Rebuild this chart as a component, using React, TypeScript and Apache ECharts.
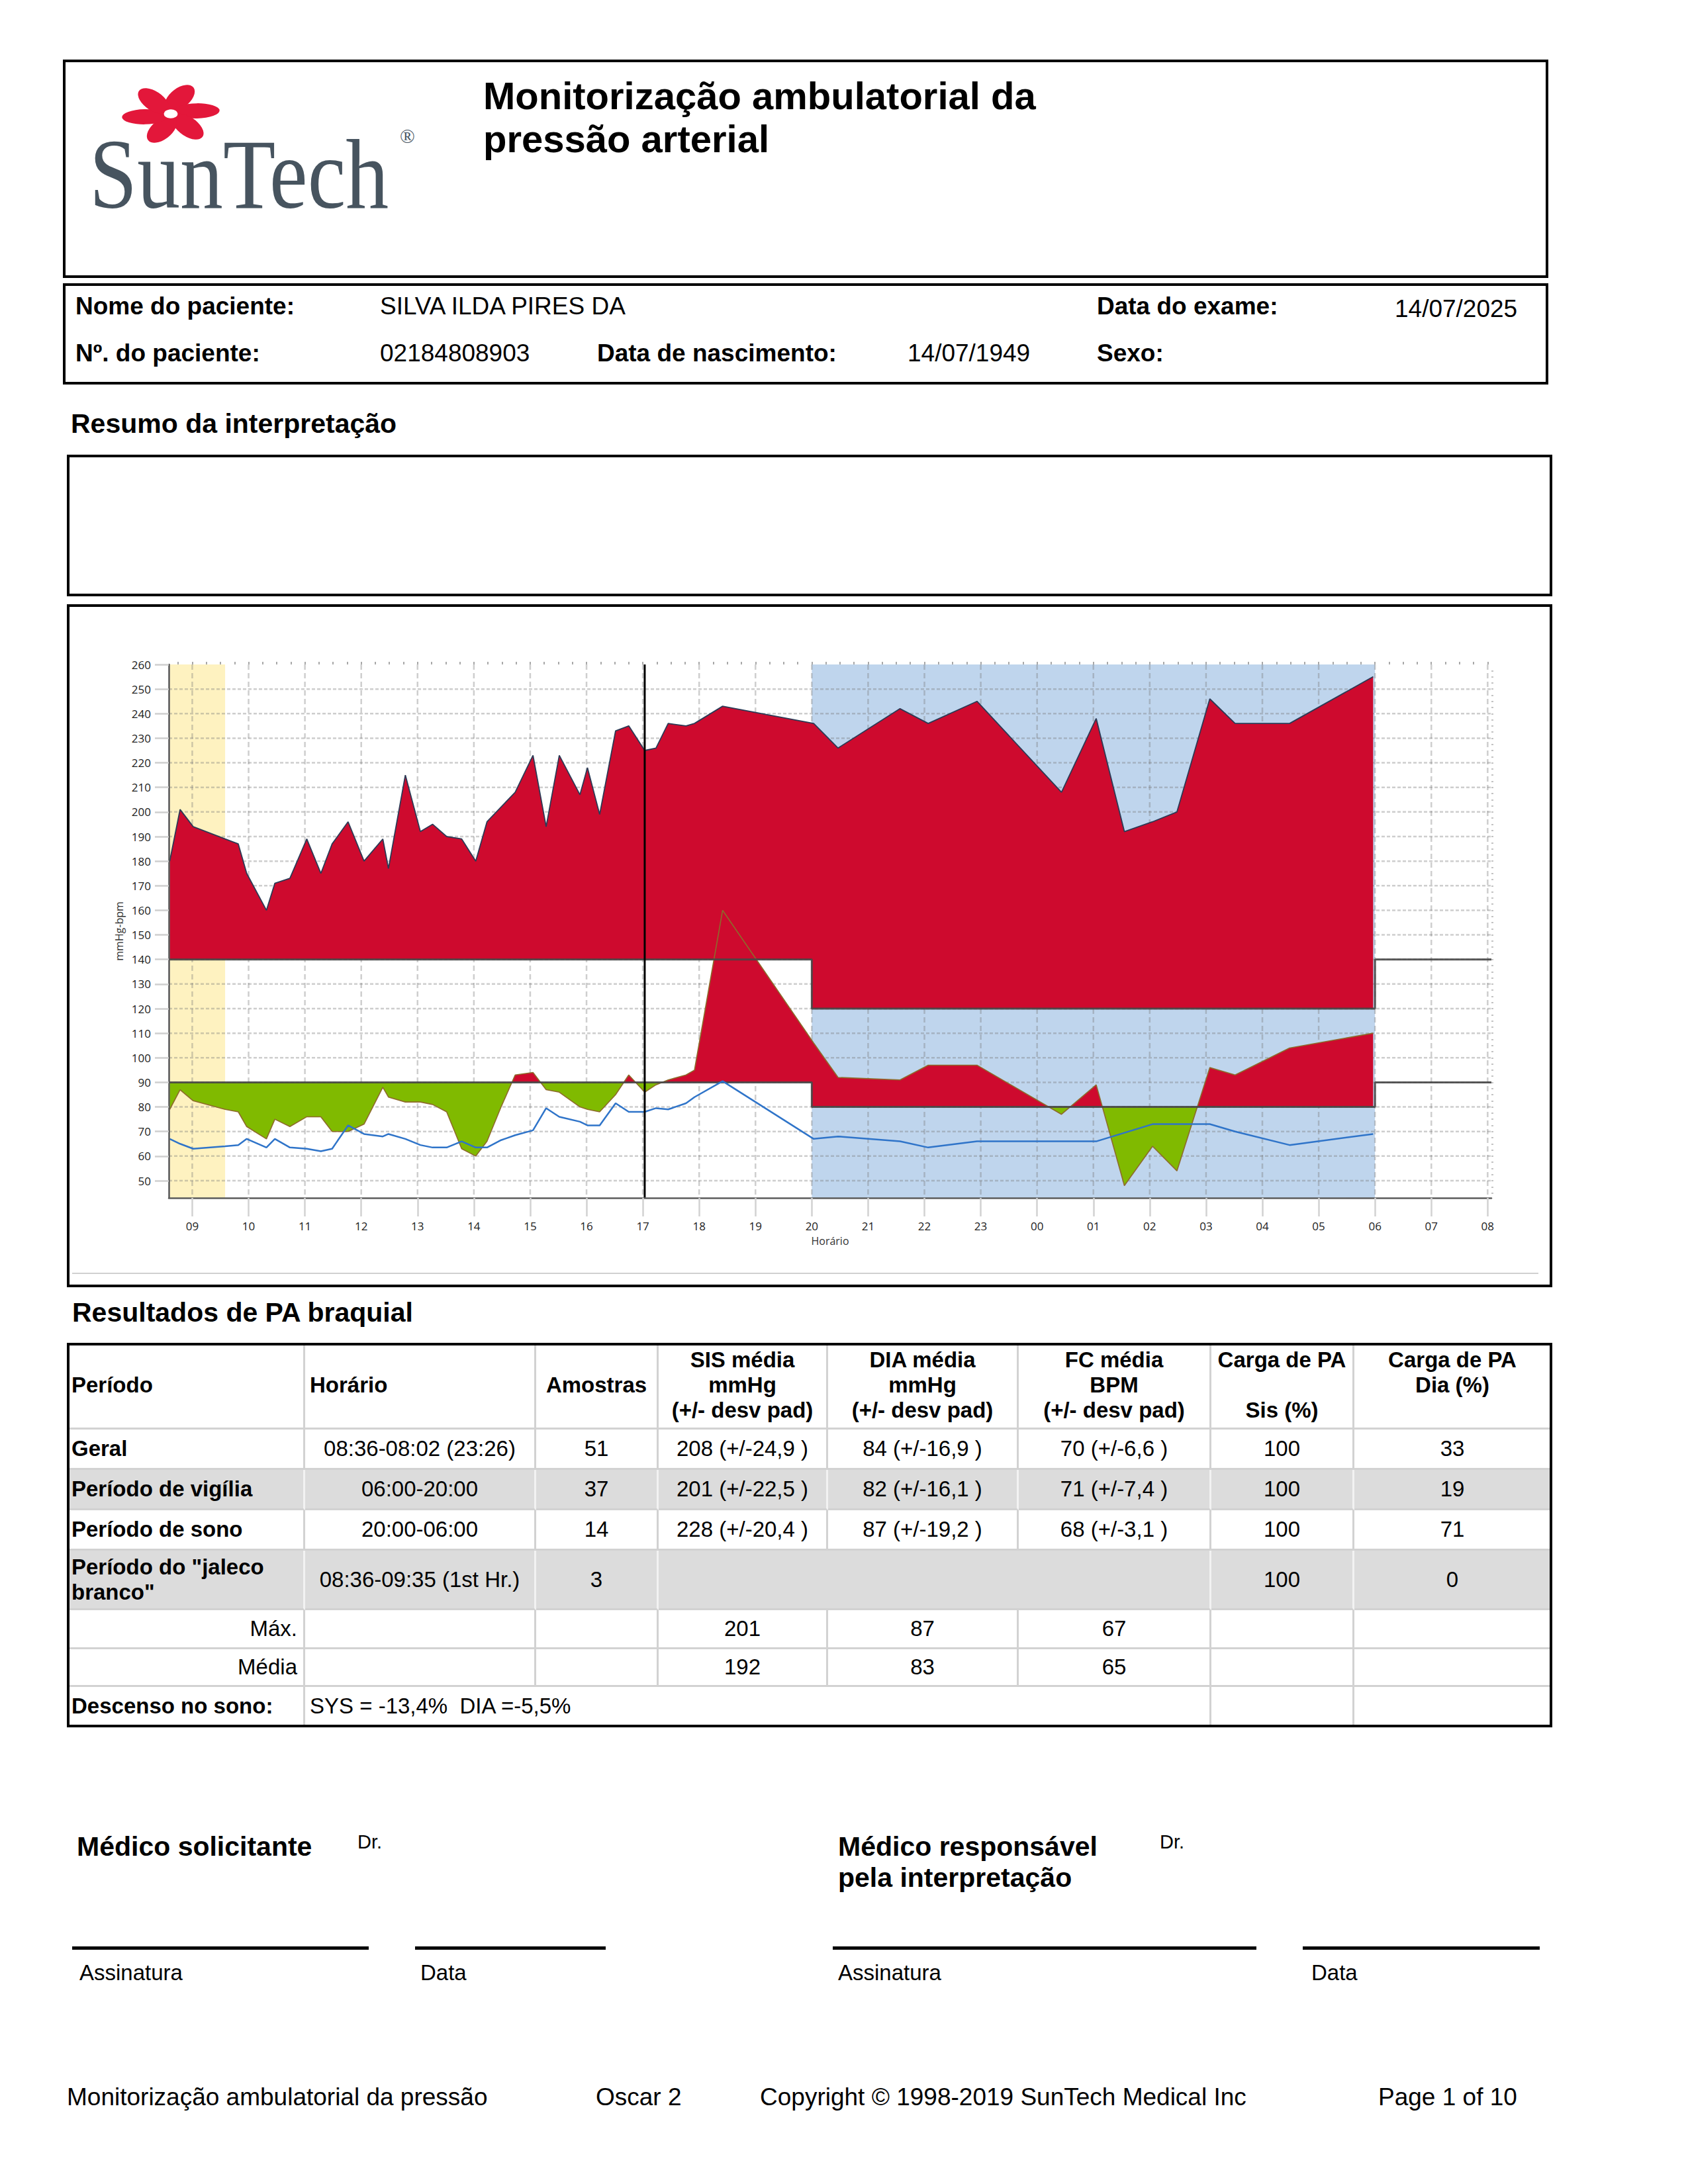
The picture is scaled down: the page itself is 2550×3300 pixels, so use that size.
import React, { useEffect, useRef } from "react";
import * as echarts from "echarts";

// ---------------- chart data ----------------
const measureTimes = [
  "08:36", "08:47", "09:01", "09:35", "09:49", "09:58", "10:19", "10:28", "10:44", "11:02",
  "11:17", "11:29", "11:46", "12:03", "12:23", "12:29", "12:47", "13:03", "13:16", "13:31",
  "13:47", "14:02", "14:14", "14:29", "14:44", "15:03", "15:17", "15:31", "15:53", "16:01",
  "16:14", "16:31", "16:45", "17:02", "17:14", "17:27", "17:46", "17:55", "18:25", "20:02",
  "20:28", "21:34", "22:04", "22:56", "00:26", "01:03", "01:33", "02:03", "02:29", "03:04",
  "03:31", "04:29", "05:58",
];
const sysValues = [
  180, 201, 194, 189, 187, 175, 160, 171, 173, 189,
  175, 187, 196, 180, 189, 177, 215, 192, 195, 190,
  189, 180, 196, 202, 208, 223, 194, 223, 207, 218,
  199, 233, 235, 225, 226, 236, 235, 236, 243, 236,
  226, 242, 236, 245, 208, 238, 192, 196, 200, 246,
  236, 236, 255,
];
const diaValues = [
  79, 87, 82.5, 79, 78, 72, 67, 75, 72, 76,
  76, 70, 70, 73, 88, 84, 82, 82, 81, 78,
  63, 60, 66, 80, 93, 94, 87, 86, 80, 79,
  78, 85, 93, 86, 89, 91, 93, 95, 160, 106,
  92, 91, 97, 97, 77, 89, 48, 64, 54, 96,
  93, 104, 110,
];
const hrValues = [
  67, 65, 63, 64, 64.5, 67, 63.5, 67, 63.5, 63,
  62, 63, 72.5, 69, 68, 69, 67, 64.5, 63.5, 63.5,
  66, 63.5, 63.5, 66.5, 68.5, 70.5, 79.5, 76, 74, 72.5,
  72.5, 81.5, 78, 78, 79.5, 79, 81.5, 84, 90.5, 67,
  68, 66, 63.5, 66, 66, 66, 69.5, 73, 73, 73,
  70, 64.5, 69,
];
const limitTimes = ["08:35", "20:00", "20:00", "06:00", "06:00", "08:04"];
const sysLimitValues = [140, 140, 120, 120, 140, 140];
const diaLimitValues = [90, 90, 80, 80, 90, 90];
const whiteCoatPeriod = ["08:36", "09:35"];
const sleepPeriod = ["20:00", "06:00"];
const markerTime = "17:02";
const xAxisRange = ["08:35", "08:04"];
const yAxisRange = [43, 260];
const hourLabels = [
  "09", "10", "11", "12", "13", "14", "15", "16", "17", "18", "19", "20",
  "21", "22", "23", "00", "01", "02", "03", "04", "05", "06", "07", "08",
];
const yTickValues = [50, 60, 70, 80, 90, 100, 110, 120, 130, 140, 150, 160, 170, 180, 190, 200, 210, 220, 230, 240, 250, 260];
const yGridValues = [50, 60, 70, 80, 90, 100, 110, 120, 130, 140, 150, 160, 170, 180, 190, 200, 210, 220, 230, 240, 250];

// ---------------- table data ----------------
const tableHeaders = [
  ["Período"], ["Horário"], ["Amostras"],
  ["SIS média", "mmHg", "(+/- desv pad)"],
  ["DIA média", "mmHg", "(+/- desv pad)"],
  ["FC média", "BPM", "(+/- desv pad)"],
  ["Carga de PA", "", "Sis (%)"],
  ["Carga de PA", "Dia (%)", ""],
];
const rowGeral = ["Geral", "08:36-08:02 (23:26)", "51", "208 (+/-24,9 )", "84 (+/-16,9 )", "70 (+/-6,6 )", "100", "33"];
const rowVigilia = ["Período de vigília", "06:00-20:00", "37", "201 (+/-22,5 )", "82 (+/-16,1 )", "71 (+/-7,4 )", "100", "19"];
const rowSono = ["Período de sono", "20:00-06:00", "14", "228 (+/-20,4 )", "87 (+/-19,2 )", "68 (+/-3,1 )", "100", "71"];
const rowJaleco = ["Período do \"jaleco", "branco\"", "08:36-09:35 (1st Hr.)", "3", "100", "0"];
const rowMax = ["Máx.", "201", "87", "67"];
const rowMedia = ["Média", "192", "83", "65"];
const rowDescenso = ["Descenso no sono:", "SYS = -13,4%  DIA =-5,5%"];

// ---------------- helpers ----------------
const FONT = "'Liberation Sans', Arial, Helvetica, sans-serif";
const CHART_FONT = "'Open Sans', 'Noto Sans', sans-serif";
const RED = "#CE0A2E";
const GREEN = "#80BA00";
const YELLOW = "#FEF2C0";
const BLUE = "#BFD5ED";
const GRID = "rgba(120,120,120,0.36)";

function toHours(s: string): number {
  const [h, m] = s.split(":").map(Number);
  const v = h + m / 60;
  return v < 8.5 ? v + 24 : v;
}

const T = measureTimes.map(toHours);
const X_MIN = toHours(xAxisRange[0]);
const X_MAX = toHours(xAxisRange[1]);
const Y_MIN = yAxisRange[0];
const Y_MAX = yAxisRange[1];
const hourTicks = hourLabels.map((l) => toHours(l + ":00"));
const SLEEP_START = toHours(sleepPeriod[0]);
const SLEEP_END = toHours(sleepPeriod[1]);
const quarterTicks: number[] = [];
for (let t = Math.ceil(X_MIN * 4) / 4; t <= X_MAX + 1e-9; t += 0.25) quarterTicks.push(t);
const yMinorTicks: number[] = [];
for (let v = 45; v < Y_MAX; v += 2.5) yMinorTicks.push(v);

function thrAt(t: number, awake: number, sleep: number) {
  return t >= SLEEP_START && t < SLEEP_END ? sleep : awake;
}

function buildPieces(ts: number[], vs: number[], awake: number, sleep: number) {
  const pieces: any[] = [];
  for (let i = 0; i < ts.length - 1; i++) {
    const t0 = ts[i], t1 = ts[i + 1], v0 = vs[i], v1 = vs[i + 1];
    const cuts = [t0];
    [SLEEP_START, SLEEP_END].forEach((s) => { if (s > t0 && s < t1) cuts.push(s); });
    cuts.push(t1);
    for (let k = 0; k < cuts.length - 1; k++) {
      const a = cuts[k], b = cuts[k + 1];
      const va = v0 + ((v1 - v0) * (a - t0)) / (t1 - t0);
      const vb = v0 + ((v1 - v0) * (b - t0)) / (t1 - t0);
      const thr = thrAt((a + b) / 2, awake, sleep);
      if ((va - thr) * (vb - thr) < 0) {
        const tc = a + ((thr - va) / (vb - va)) * (b - a);
        pieces.push({ a, va, b: tc, vb: thr, thr });
        pieces.push({ a: tc, va: thr, b, vb, thr });
      } else {
        pieces.push({ a, va, b, vb, thr });
      }
    }
  }
  return pieces;
}

function buildRuns(pieces: any[]) {
  const runs: any[] = [];
  let cur: any = null;
  for (const p of pieces) {
    const s = (p.va + p.vb) / 2 - p.thr >= 0 ? 1 : -1;
    if (!cur || cur.s !== s) { cur = { s, pieces: [] }; runs.push(cur); }
    cur.pieces.push(p);
  }
  return runs;
}

function runPolygon(run: any, api: any) {
  const ps = run.pieces;
  const pts: number[][] = [api.coord([ps[0].a, ps[0].va])];
  for (const p of ps) pts.push(api.coord([p.b, p.vb]));
  for (let j = ps.length - 1; j >= 0; j--) {
    pts.push(api.coord([ps[j].b, ps[j].thr]));
    pts.push(api.coord([ps[j].a, ps[j].thr]));
  }
  return pts;
}

const sysRuns = buildRuns(buildPieces(T, sysValues, sysLimitValues[0], sysLimitValues[2]));
const diaRuns = buildRuns(buildPieces(T, diaValues, diaLimitValues[0], diaLimitValues[2]));

function layer(name: string, z: number, build: (api: any) => any[]) {
  return {
    type: "custom", name, z, silent: true, clip: false,
    data: [[10, 100]],
    renderItem: (_params: any, api: any) => ({ type: "group", children: build(api) }),
  };
}

const axisFont = { fontFamily: CHART_FONT, fontSize: 17, color: "#222" };

function buildOption() {
  const limitX = limitTimes.map(toHours);
  const mk = toHours(markerTime);
  return {
    animation: false,
    grid: { left: 150, right: 88, top: 87, bottom: 131 },
    xAxis: [
      {
        type: "value", min: X_MIN, max: X_MAX, z: 10,
        name: "Horário", nameLocation: "middle", nameGap: 57,
        nameTextStyle: { fontFamily: CHART_FONT, fontSize: 16, color: "#333" },
        axisLine: { show: true, onZero: false, lineStyle: { color: "#5c5c5c", width: 2.5 } },
        axisTick: { show: true, customValues: hourTicks, length: 28, lineStyle: { color: "#d2d2d2", width: 2.5 } },
        axisLabel: {
          show: true, customValues: hourTicks, margin: 34, ...axisFont,
          formatter: (v: number) => {
            const i = hourTicks.findIndex((t) => Math.abs(t - v) < 1e-6);
            return i >= 0 ? hourLabels[i] : "";
          },
        },
        splitLine: { show: false },
      },
      {
        type: "value", min: X_MIN, max: X_MAX, z: 10,
        axisLine: { show: false, onZero: false },
        axisTick: { show: true, customValues: quarterTicks, length: 4, lineStyle: { color: "#a8a8a8", width: 2 } },
        axisLabel: { show: false },
        splitLine: { show: false },
      },
    ],
    yAxis: [
      {
        type: "value", min: Y_MIN, max: Y_MAX, z: 10,
        name: "mmHg-bpm", nameLocation: "middle", nameGap: 65, nameRotate: 90,
        nameTextStyle: { fontFamily: CHART_FONT, fontSize: 16, color: "#333" },
        axisLine: { show: true, lineStyle: { color: "#555", width: 2.5 } },
        axisTick: { show: true, customValues: yTickValues, length: 21, lineStyle: { color: "#cfcfcf", width: 2.5 } },
        axisLabel: { show: true, customValues: yTickValues, margin: 27, ...axisFont },
        splitLine: { show: false },
      },
      {
        type: "value", min: Y_MIN, max: Y_MAX, z: 10,
        axisLine: { show: false },
        axisTick: { show: true, customValues: yMinorTicks, length: 3, lineStyle: { color: "#b0b0b0", width: 1.5 } },
        axisLabel: { show: false },
        splitLine: { show: false },
      },
    ],
    graphic: [
      { type: "line", silent: true, shape: { x1: 4, y1: 1007, x2: 2219, y2: 1007 }, style: { stroke: "#d0d0d0", lineWidth: 2 } },
    ],
    series: [
      layer("bands", 1, (api) => {
        const rect = (t0: number, t1: number, fill: string) => {
          const p0 = api.coord([t0, Y_MAX]);
          const p1 = api.coord([t1, Y_MIN]);
          return { type: "rect", shape: { x: p0[0], y: p0[1], width: p1[0] - p0[0], height: p1[1] - p0[1] }, style: { fill } };
        };
        return [
          rect(toHours(whiteCoatPeriod[0]), toHours(whiteCoatPeriod[1]), YELLOW),
          rect(SLEEP_START, SLEEP_END, BLUE),
        ];
      }),
      layer("grid", 2, (api) => {
        const out: any[] = [];
        yGridValues.forEach((v) => {
          const a = api.coord([X_MIN, v]), b = api.coord([X_MAX, v]);
          out.push({ type: "line", shape: { x1: a[0], y1: a[1], x2: b[0], y2: b[1] }, style: { stroke: GRID, lineWidth: 2.5, lineDash: [5, 3] } });
        });
        hourTicks.forEach((t) => {
          const a = api.coord([t, Y_MAX]), b = api.coord([t, Y_MIN]);
          out.push({ type: "line", shape: { x1: a[0], y1: a[1], x2: b[0], y2: b[1] }, style: { stroke: GRID, lineWidth: 2.5, lineDash: [8, 5] } });
        });
        return out;
      }),
      layer("sysFill", 3, (api) =>
        sysRuns.map((r: any) => ({ type: "polygon", shape: { points: runPolygon(r, api) }, style: { fill: RED } }))
      ),
      {
        type: "line", name: "SIS", z: 4, silent: true, symbol: "none",
        data: T.map((t, i) => [t, sysValues[i]]),
        lineStyle: { color: "#2d3a55", width: 1.8 },
      },
      layer("diaFill", 5, (api) =>
        diaRuns.map((r: any) => ({ type: "polygon", shape: { points: runPolygon(r, api) }, style: { fill: r.s > 0 ? RED : GREEN } }))
      ),
      {
        type: "line", name: "DIA", z: 6, silent: true, symbol: "none",
        data: T.map((t, i) => [t, diaValues[i]]),
        lineStyle: { color: "#8d6b2b", width: 1.6 },
      },
      {
        type: "line", name: "limiteSIS", z: 7, silent: true, symbol: "none",
        data: limitX.map((t, i) => [t, sysLimitValues[i]]),
        lineStyle: { color: "rgba(70,70,70,0.9)", width: 3 },
      },
      {
        type: "line", name: "limiteDIA", z: 7, silent: true, symbol: "none",
        data: limitX.map((t, i) => [t, diaLimitValues[i]]),
        lineStyle: { color: "rgba(70,70,70,0.9)", width: 3 },
      },
      {
        type: "line", name: "FC", z: 8, silent: true, symbol: "none",
        data: T.map((t, i) => [t, hrValues[i]]),
        lineStyle: { color: "#2f74c9", width: 2.5 },
      },
      {
        type: "line", name: "marcador", z: 9, silent: true, symbol: "none",
        data: [[mk, Y_MIN], [mk, Y_MAX]],
        lineStyle: { color: "#000", width: 3 },
      },
    ],
  };
}

function BpChart() {
  const ref = useRef<HTMLDivElement>(null);
  useEffect(() => {
    const chart = echarts.init(ref.current!, undefined, { renderer: "svg" });
    chart.setOption(buildOption() as any);
    return () => chart.dispose();
  }, []);
  return <div ref={ref} style={{ position: "absolute", left: 105, top: 917, width: 2236, height: 1024 }} />;
}

// ---------------- page helpers ----------------
function Txt({ x, y, size, bold, children, align = "left" }: any) {
  const style: any = {
    position: "absolute", top: y - size * 0.59, fontSize: size, lineHeight: `${size * 1.2}px`,
    fontWeight: bold ? 700 : 400, whiteSpace: "pre", fontFamily: FONT, color: "#000",
  };
  if (align === "left") style.left = x;
  else if (align === "center") { style.left = x; style.transform = "translateX(-50%)"; }
  else style.right = 2550 - x;
  return <div style={style}>{children}</div>;
}

function Box({ x, y, w, h, bw = 4 }: any) {
  return <div style={{ position: "absolute", left: x, top: y, width: w, height: h, border: `${bw}px solid #000`, boxSizing: "border-box" }} />;
}

const COLS = [101, 461, 810, 995, 1251, 1539, 1830, 2046, 2345];
const ROWS = [2029, 2160, 2221, 2282, 2343, 2433, 2492, 2549, 2610];

function Cell({ c0, c1, r, lines, align = "center", bold = false, gray = false }: any) {
  const x0 = COLS[c0], x1 = COLS[c1], y0 = ROWS[r], y1 = ROWS[r + 1];
  const bc = gray ? "#f2f2f2" : "#d2d2d2";
  return (
    <div
      style={{
        position: "absolute", left: x0, top: y0, width: x1 - x0, height: y1 - y0, boxSizing: "border-box",
        background: gray ? "#dcdcdc" : "#fff", borderRight: `3px solid ${bc}`, borderBottom: "3px solid #d2d2d2",
        display: "flex", flexDirection: "column", justifyContent: "center",
        alignItems: align === "left" ? "flex-start" : align === "right" ? "flex-end" : "center",
        paddingLeft: align === "center" ? 2 : 7, paddingRight: align === "center" ? 2 : 9,
        fontFamily: FONT, fontSize: 33, fontWeight: bold ? 700 : 400, lineHeight: "38px",
        whiteSpace: "pre", textAlign: align, color: "#000",
      }}
    >
      {lines.map((l: string, i: number) => <div key={i}>{l === "" ? "\u00a0" : l}</div>)}
    </div>
  );
}

function ResultsTable() {
  const cells: any[] = [];
  tableHeaders.forEach((h, c) => {
    cells.push(<Cell key={`h${c}`} c0={c} c1={c + 1} r={0} lines={h} bold align={c < 2 ? "left" : "center"} />);
  });
  const plainRows = [rowGeral, rowVigilia, rowSono];
  plainRows.forEach((row, ri) => {
    row.forEach((v, c) => {
      cells.push(<Cell key={`r${ri}c${c}`} c0={c} c1={c + 1} r={ri + 1} lines={[v]} bold={c === 0} align={c === 0 ? "left" : "center"} gray={ri === 1} />);
    });
  });
  cells.push(<Cell key="j0" c0={0} c1={1} r={4} lines={[rowJaleco[0], rowJaleco[1]]} bold align="left" gray />);
  cells.push(<Cell key="j1" c0={1} c1={2} r={4} lines={[rowJaleco[2]]} gray />);
  cells.push(<Cell key="j2" c0={2} c1={3} r={4} lines={[rowJaleco[3]]} gray />);
  cells.push(<Cell key="j3" c0={3} c1={6} r={4} lines={[""]} gray />);
  cells.push(<Cell key="j4" c0={6} c1={7} r={4} lines={[rowJaleco[4]]} gray />);
  cells.push(<Cell key="j5" c0={7} c1={8} r={4} lines={[rowJaleco[5]]} gray />);
  [rowMax, rowMedia].forEach((row, k) => {
    const r = 5 + k;
    cells.push(<Cell key={`m${k}0`} c0={0} c1={1} r={r} lines={[row[0]]} align="right" />);
    cells.push(<Cell key={`m${k}1`} c0={1} c1={2} r={r} lines={[""]} />);
    cells.push(<Cell key={`m${k}2`} c0={2} c1={3} r={r} lines={[""]} />);
    cells.push(<Cell key={`m${k}3`} c0={3} c1={4} r={r} lines={[row[1]]} />);
    cells.push(<Cell key={`m${k}4`} c0={4} c1={5} r={r} lines={[row[2]]} />);
    cells.push(<Cell key={`m${k}5`} c0={5} c1={6} r={r} lines={[row[3]]} />);
    cells.push(<Cell key={`m${k}6`} c0={6} c1={7} r={r} lines={[""]} />);
    cells.push(<Cell key={`m${k}7`} c0={7} c1={8} r={r} lines={[""]} />);
  });
  cells.push(<Cell key="d0" c0={0} c1={1} r={7} lines={[rowDescenso[0]]} bold align="left" />);
  cells.push(<Cell key="d1" c0={1} c1={6} r={7} lines={[rowDescenso[1]]} align="left" />);
  cells.push(<Cell key="d2" c0={6} c1={7} r={7} lines={[""]} />);
  cells.push(<Cell key="d3" c0={7} c1={8} r={7} lines={[""]} />);
  return (
    <>
      {cells}
      <Box x={101} y={2029} w={2244} h={581} />
    </>
  );
}

function Logo() {
  const petals = [0, 60, 120, 180, 240, 300];
  // svg placed at (110, 100); inner coords = page coords - (110, 100)
  return (
    <svg style={{ position: "absolute", left: 110, top: 100 }} width={560} height={310} viewBox="0 0 560 310">
      <g transform="translate(148,72) scale(1.5,0.95)">
        {petals.map((a) => (
          <g key={a} transform={`rotate(${a})`}>
            <ellipse cx={9} cy={-25} rx={12} ry={23} transform="rotate(28 9 -25)" fill="#E3173A" />
          </g>
        ))}
        <circle cx={0} cy={0} r={7} fill="#fff" />
      </g>
      <g transform="translate(25,214) scale(0.865,1)">
        <text x={0} y={0} fontFamily="'Liberation Serif', 'DejaVu Serif', serif" fontSize={150} fill="#47545f">SunTech</text>
      </g>
      <text x={494} y={116} fontFamily="'Liberation Serif', serif" fontSize={30} fill="#47545f">®</text>
    </svg>
  );
}

export default function App() {
  return (
    <div style={{ position: "absolute", left: 0, top: 0, width: 2550, height: 3300, background: "#fff", overflow: "hidden" }}>
      {/* header */}
      <Box x={95} y={90} w={2244} h={330} />
      <Logo />
      <div style={{ position: "absolute", left: 730, top: 112, fontFamily: FONT, fontWeight: 700, fontSize: 58, lineHeight: "65px", color: "#000" }}>
        Monitorização ambulatorial da<br />pressão arterial
      </div>

      {/* patient info */}
      <Box x={95} y={428} w={2244} h={153} />
      <Txt x={114} y={463} size={37} bold>Nome do paciente:</Txt>
      <Txt x={574} y={463} size={37}>SILVA ILDA PIRES DA</Txt>
      <Txt x={1657} y={463} size={37} bold>Data do exame:</Txt>
      <Txt x={2107} y={467} size={37}>14/07/2025</Txt>
      <Txt x={114} y={534} size={37} bold>Nº. do paciente:</Txt>
      <Txt x={574} y={534} size={37}>02184808903</Txt>
      <Txt x={902} y={534} size={37} bold>Data de nascimento:</Txt>
      <Txt x={1371} y={534} size={37}>14/07/1949</Txt>
      <Txt x={1657} y={534} size={37} bold>Sexo:</Txt>

      {/* interpretation */}
      <Txt x={107} y={640} size={41} bold>Resumo da interpretação</Txt>
      <Box x={101} y={687} w={2244} h={214} />

      {/* chart */}
      <Box x={101} y={913} w={2244} h={1032} />
      <BpChart />

      {/* results */}
      <Txt x={109} y={1983} size={41} bold>Resultados de PA braquial</Txt>
      <ResultsTable />

      {/* signatures */}
      <Txt x={116} y={2790} size={41} bold>Médico solicitante</Txt>
      <Txt x={540} y={2783} size={29}>Dr.</Txt>
      <Txt x={1266} y={2790} size={41} bold>Médico responsável</Txt>
      <Txt x={1266} y={2837} size={41} bold>pela interpretação</Txt>
      <Txt x={1752} y={2783} size={29}>Dr.</Txt>
      <div style={{ position: "absolute", left: 109, top: 2941, width: 448, height: 5, background: "#000" }} />
      <div style={{ position: "absolute", left: 627, top: 2941, width: 288, height: 5, background: "#000" }} />
      <div style={{ position: "absolute", left: 1258, top: 2941, width: 640, height: 5, background: "#000" }} />
      <div style={{ position: "absolute", left: 1968, top: 2941, width: 358, height: 5, background: "#000" }} />
      <Txt x={120} y={2980} size={33}>Assinatura</Txt>
      <Txt x={635} y={2980} size={33}>Data</Txt>
      <Txt x={1266} y={2980} size={33}>Assinatura</Txt>
      <Txt x={1981} y={2980} size={33}>Data</Txt>

      {/* footer */}
      <Txt x={101} y={3169} size={37}>Monitorização ambulatorial da pressão</Txt>
      <Txt x={900} y={3169} size={37}>Oscar 2</Txt>
      <Txt x={1148} y={3169} size={37}>Copyright © 1998-2019 SunTech Medical Inc</Txt>
      <Txt x={2082} y={3169} size={37}>Page 1 of 10</Txt>
    </div>
  );
}
